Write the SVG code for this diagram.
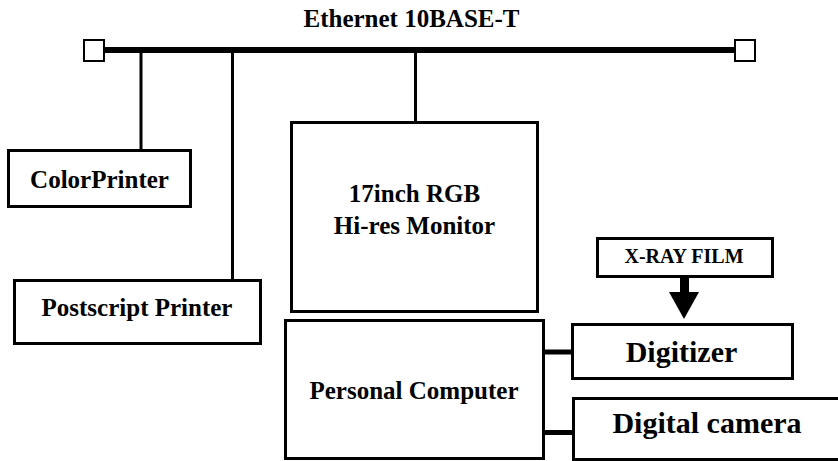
<svg xmlns="http://www.w3.org/2000/svg" width="838" height="461" viewBox="0 0 838 461">
<style>
  .box { fill: #fff; stroke: #000; stroke-width: 3; }
  .lbl { font-family: "Liberation Serif", "Times New Roman", serif; font-weight: bold; fill: #000; text-anchor: middle; }
  .wire { stroke: #000; stroke-width: 3; fill: none; }
  .thick { stroke: #000; stroke-width: 5; fill: none; }
</style>
<rect width="838" height="461" fill="#fff"/>
<g id="connectors">
  <line class="wire" x1="141" y1="50" x2="141" y2="150"/>
  <line class="wire" x1="232.5" y1="50" x2="232.5" y2="280"/>
  <line class="wire" x1="415.5" y1="50" x2="415.5" y2="122"/>
  <line x1="104" y1="50" x2="734" y2="50" stroke="#000" stroke-width="6"/>
  <line class="thick" x1="545" y1="352" x2="571" y2="352"/>
  <line class="thick" x1="545" y1="432.5" x2="572" y2="432.5"/>
  <rect x="680" y="277" width="9" height="16" fill="#000"/>
  <polygon points="669,292 699,292 684,319" fill="#000"/>
</g>
<g id="bus-label">
  <text class="lbl" x="411.5" y="27" font-size="25">Ethernet 10BASE-T</text>
</g>
<g id="terminator-left">
  <rect x="84" y="40" width="20" height="21" fill="#fff" stroke="#000" stroke-width="2"/>
</g>
<g id="terminator-right">
  <rect x="735" y="40" width="20" height="21" fill="#fff" stroke="#000" stroke-width="2"/>
</g>
<g id="color-printer">
  <rect class="box" x="8.5" y="150.5" width="182" height="56"/>
  <text class="lbl" x="99.5" y="188" font-size="25">ColorPrinter</text>
</g>
<g id="postscript-printer">
  <rect class="box" x="14.5" y="280.5" width="246" height="63"/>
  <text class="lbl" x="137" y="316" font-size="25">Postscript Printer</text>
</g>
<g id="monitor">
  <rect class="box" x="291.5" y="122.5" width="246" height="189"/>
  <text class="lbl" x="414.5" y="202" font-size="25">17inch RGB</text>
  <text class="lbl" x="414.5" y="234" font-size="25">Hi-res Monitor</text>
</g>
<g id="personal-computer">
  <rect class="box" x="285.5" y="320.5" width="258" height="138"/>
  <text class="lbl" x="414" y="399" font-size="25">Personal Computer</text>
</g>
<g id="xray-film">
  <rect class="box" x="597.5" y="238.5" width="175" height="38"/>
  <text class="lbl" x="684" y="263" font-size="20">X-RAY FILM</text>
</g>
<g id="digitizer">
  <rect class="box" x="572.5" y="324.5" width="220" height="54"/>
  <text class="lbl" x="681.5" y="362" font-size="30">Digitizer</text>
</g>
<g id="digital-camera">
  <rect class="box" x="573.5" y="398.5" width="270" height="61"/>
  <text class="lbl" x="707" y="433" font-size="30">Digital camera</text>
</g>
</svg>
